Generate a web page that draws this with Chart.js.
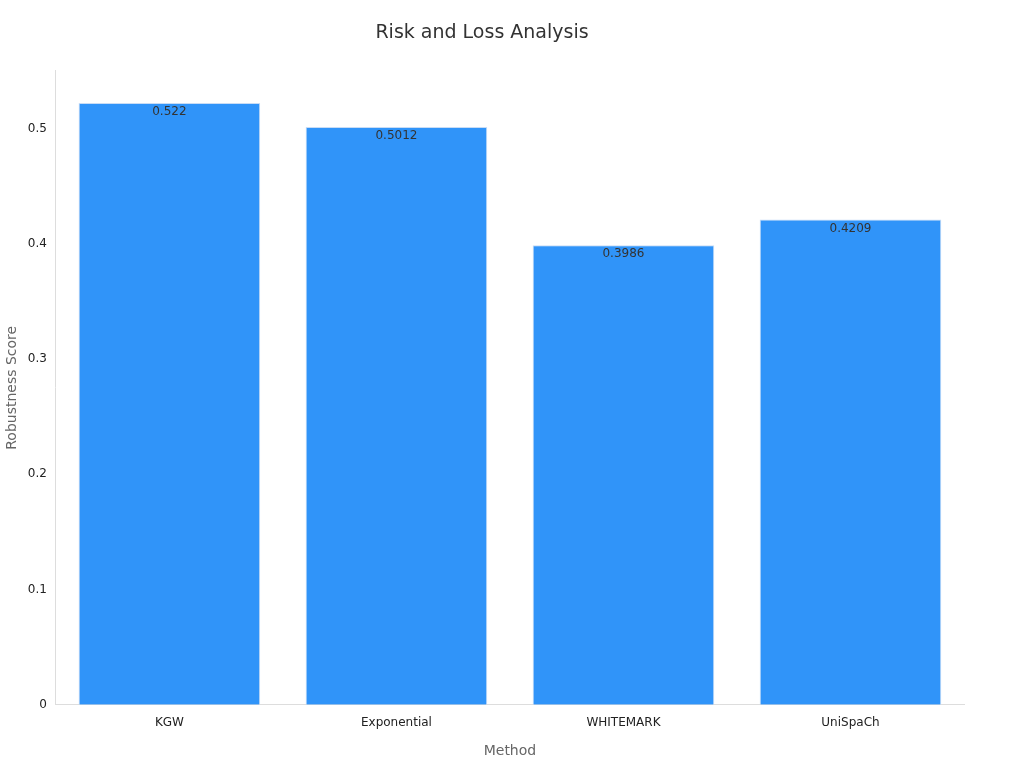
<!DOCTYPE html>
<html><head><meta charset="utf-8">
<script src="https://cdn.jsdelivr.net/npm/chart.js@4"></script>
<style>html,body{margin:0;padding:0;background:#fff}#w{width:1024px;height:768px}</style>
</head><body><div id="w"><canvas id="c"></canvas></div>
<script>
const categories = ["KGW","Exponential","WHITEMARK","UniSpaCh"];
const scores = [0.522,0.5012,0.3986,0.4209];
const yTicks = [0,0.1,0.2,0.3,0.4,0.5];
const valueLabels = {
  id:'vl',
  afterDatasetsDraw(chart){
    const ctx=chart.ctx; const meta=chart.getDatasetMeta(0);
    ctx.save(); ctx.font='12px "DejaVu Sans"'; ctx.fillStyle='#333'; ctx.textAlign='center'; ctx.textBaseline='top';
    meta.data.forEach((b,i)=>{ ctx.fillText(String(scores[i]), b.x, b.y+3); });
    ctx.restore();
  }
};
Chart.defaults.font.family='"DejaVu Sans", sans-serif';
new Chart(document.getElementById('c'),{
  type:'bar',
  data:{labels:categories,datasets:[{data:scores,backgroundColor:'#3094f9',borderColor:'#c8dcf5',borderWidth:1,categoryPercentage:1,barPercentage:0.8}]},
  options:{responsive:true,maintainAspectRatio:false,animation:false,
    layout:{padding:{left:0,right:60,top:10,bottom:4}},
    plugins:{legend:{display:false},tooltip:{enabled:false},
      title:{display:true,text:'Risk and Loss Analysis',color:'#333',font:{size:19,weight:'normal'},padding:{top:12,bottom:26}}},
    scales:{
      x:{grid:{display:false,drawTicks:true},border:{color:'#ddd'},ticks:{color:'#222',font:{size:12}},
        title:{display:true,text:'Method',color:'#666',font:{size:14},padding:{top:10}}},
      y:{min:0,max:0.55,afterBuildTicks(a){a.ticks=yTicks.map(v=>({value:v}));},
        grid:{display:false,drawTicks:true,tickLength:6},border:{color:'#ddd'},
        ticks:{color:'#222',font:{size:12},callback:v=>v===0?'0':v.toFixed(1)},
        title:{display:true,text:'Robustness Score',color:'#666',font:{size:14}}}
    }},
  plugins:[valueLabels]
});
</script></body></html>
